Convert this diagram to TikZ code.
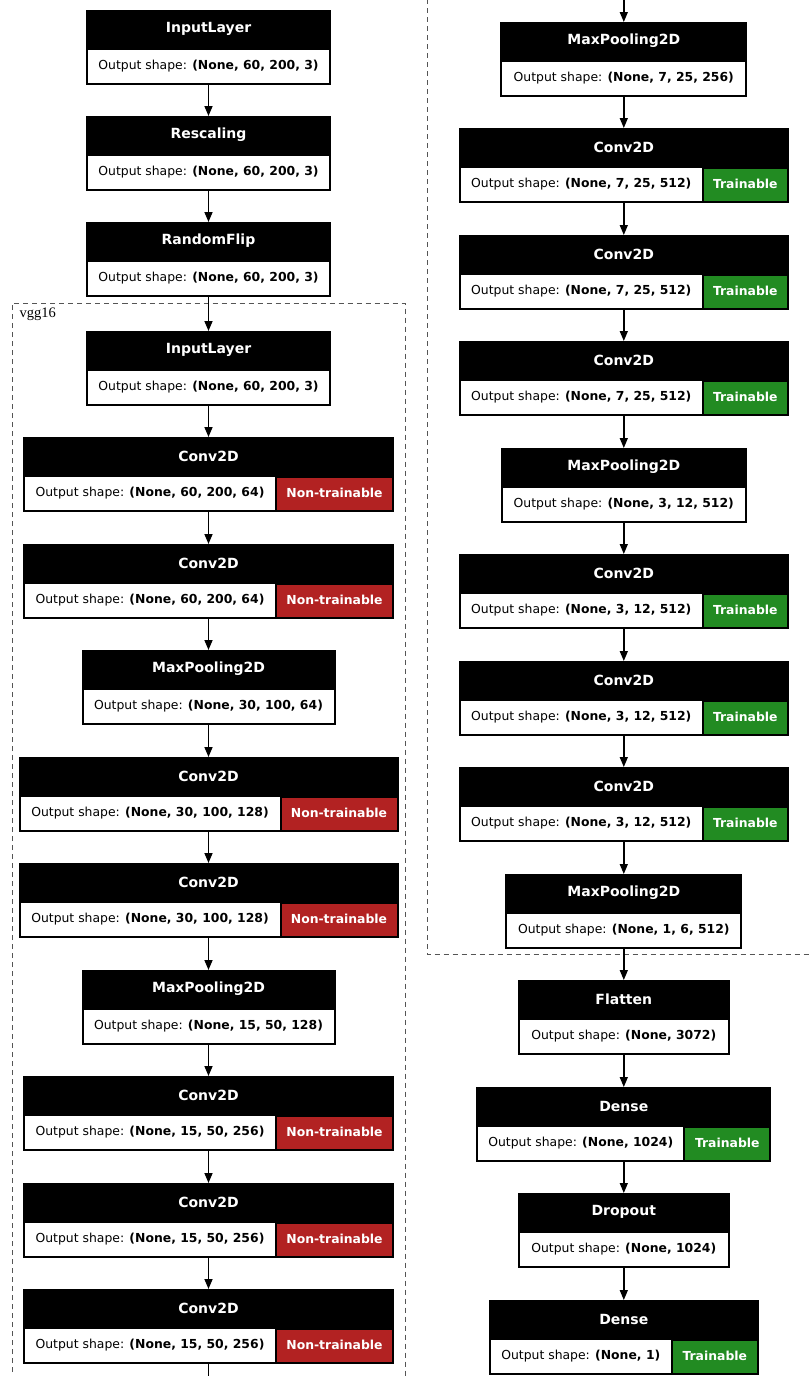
\documentclass[tikz,border=0pt]{standalone}
\usepackage{fontspec}
\setmainfont{DejaVu Sans}
\newfontfamily\clusterfont{Liberation Serif}
\usetikzlibrary{arrows.meta,calc}

\definecolor{nontrain}{HTML}{B22222}
\definecolor{train}{HTML}{228B22}
\definecolor{framegray}{HTML}{555555}

\tikzset{
  x=1pt, y=-1pt,
  layerbox/.style={draw=black, fill=black, line width=1pt, minimum height=74pt,
                   inner sep=0pt, anchor=north},
  titletext/.style={text=white, inner sep=0pt, font=\fontsize{14}{16}\selectfont\bfseries},
  shapetext/.style={inner sep=0pt, font=\fontsize{12.4}{14}\selectfont},
  badgetext/.style={text=white, inner sep=0pt, font=\fontsize{12.4}{14}\selectfont\bfseries},
  flow/.style={line width=1.5pt, -{Triangle[length=10pt,width=8pt]}},
  cluster/.style={draw=framegray, line width=0.9pt, dash pattern=on 5pt off 4pt},
}

% layer without a trainability badge:
% name, centre x, top y, width, title, output dims
\newcommand\plainlayer[6]{%
  \node[layerbox, minimum width=#4pt] (#1) at (#2,#3) {};
  \node[titletext] (#1-title) at ($(#1.north)+(0,19)$) {#5};
  \fill[white] ($(#1.north west)+(2,40)$) rectangle ($(#1.south east)+(-2,-2)$);
  \node[shapetext] (#1-dims) at ($(#1.south)+(0,-19)$) {Output shape: \textbf{#6}};
}

% layer with a trainability badge on the right:
% name, centre x, top y, width, title, output dims, badge colour, badge text, badge width
\newcommand\badgelayer[9]{%
  \node[layerbox, minimum width=#4pt] (#1) at (#2,#3) {};
  \node[titletext] (#1-title) at ($(#1.north)+(0,19)$) {#5};
  \fill[white] ($(#1.north west)+(2,40)$) rectangle ($(#1.south east)+(-4-#9,-2)$);
  \fill[#7] ($(#1.south east)+(-2-#9,-34)$) rectangle ($(#1.south east)+(-2,-2)$);
  \coordinate (#1-wl) at ($(#1.south west)+(2,-19)$);
  \coordinate (#1-wr) at ($(#1.south east)+(-4-#9,-19)$);
  \node[shapetext] (#1-dims) at ($(#1-wl)!0.5!(#1-wr)$) {Output shape: \textbf{#6}};
  \node[badgetext] (#1-badge) at ($(#1.south east)+(-2-#9/2,-19)$) {#8};
}

\begin{document}
\begin{tikzpicture}
  \fill[white] (0,0) rectangle (809,1376);
  \useasboundingbox (0,0) rectangle (809,1376);

  % ---- left column ----
  \plainlayer{in1}{208.5}{10}{244}{InputLayer}{(None, 60, 200, 3)}
  \plainlayer{resc}{208.5}{116}{244}{Rescaling}{(None, 60, 200, 3)}
  \plainlayer{flip}{208.5}{222}{244}{RandomFlip}{(None, 60, 200, 3)}
  \plainlayer{in2}{208.5}{331}{244}{InputLayer}{(None, 60, 200, 3)}
  \badgelayer{c1}{208.5}{437}{370}{Conv2D}{(None, 60, 200, 64)}{nontrain}{Non-trainable}{115}
  \badgelayer{c2}{208.5}{544}{370}{Conv2D}{(None, 60, 200, 64)}{nontrain}{Non-trainable}{115}
  \plainlayer{p1}{208.5}{650}{253}{MaxPooling2D}{(None, 30, 100, 64)}
  \badgelayer{c3}{208.5}{757}{379}{Conv2D}{(None, 30, 100, 128)}{nontrain}{Non-trainable}{115}
  \badgelayer{c4}{208.5}{863}{379}{Conv2D}{(None, 30, 100, 128)}{nontrain}{Non-trainable}{115}
  \plainlayer{p2}{208.5}{970}{253}{MaxPooling2D}{(None, 15, 50, 128)}
  \badgelayer{c5}{208.5}{1076}{370}{Conv2D}{(None, 15, 50, 256)}{nontrain}{Non-trainable}{115}
  \badgelayer{c6}{208.5}{1183}{370}{Conv2D}{(None, 15, 50, 256)}{nontrain}{Non-trainable}{115}
  \badgelayer{c7}{208.5}{1289}{370}{Conv2D}{(None, 15, 50, 256)}{nontrain}{Non-trainable}{115}
  \coordinate (leftout) at (208.5,1390);

  % ---- right column ----
  \coordinate (rightin) at (623.8,-10);
  \plainlayer{p3}{623.8}{22}{246}{MaxPooling2D}{(None, 7, 25, 256)}
  \badgelayer{c8}{623.8}{128}{329}{Conv2D}{(None, 7, 25, 512)}{train}{Trainable}{83}
  \badgelayer{c9}{623.8}{235}{329}{Conv2D}{(None, 7, 25, 512)}{train}{Trainable}{83}
  \badgelayer{c10}{623.8}{341}{329}{Conv2D}{(None, 7, 25, 512)}{train}{Trainable}{83}
  \plainlayer{p4}{623.8}{448}{245}{MaxPooling2D}{(None, 3, 12, 512)}
  \badgelayer{c11}{623.8}{554}{329}{Conv2D}{(None, 3, 12, 512)}{train}{Trainable}{83}
  \badgelayer{c12}{623.8}{661}{329}{Conv2D}{(None, 3, 12, 512)}{train}{Trainable}{83}
  \badgelayer{c13}{623.8}{767}{329}{Conv2D}{(None, 3, 12, 512)}{train}{Trainable}{83}
  \plainlayer{p5}{623.8}{874}{236}{MaxPooling2D}{(None, 1, 6, 512)}
  \plainlayer{flat}{623.8}{980}{211}{Flatten}{(None, 3072)}
  \badgelayer{d1}{623.8}{1087}{294}{Dense}{(None, 1024)}{train}{Trainable}{84}
  \plainlayer{drop}{623.8}{1193}{211}{Dropout}{(None, 1024)}
  \badgelayer{d2}{623.8}{1300}{269}{Dense}{(None, 1)}{train}{Trainable}{84}

  % ---- vgg16 sub-model frame, split over both columns ----
  \draw[cluster] (12,1390) -- (12,303.5) -- (405.5,303.5) -- (405.5,1390);
  \draw[cluster] (427,-10) -- (427,954.5) -- (820,954.5);
  \node[anchor=north west, inner sep=0pt, font=\clusterfont\fontsize{14.5}{16}\selectfont]
    (vgglabel) at (19.5,307.5) {vgg16};

  % ---- connectors ----
  \foreach \a/\b in {in1/resc, resc/flip, flip/in2, in2/c1, c1/c2, c2/p1, p1/c3,
                     c3/c4, c4/p2, p2/c5, c5/c6, c6/c7, c7/leftout,
                     rightin/p3, p3/c8, c8/c9, c9/c10, c10/p4, p4/c11, c11/c12,
                     c12/c13, c13/p5, p5/flat, flat/d1, d1/drop, drop/d2}
    \draw[flow] (\a) -- (\b);
\end{tikzpicture}
\end{document}
